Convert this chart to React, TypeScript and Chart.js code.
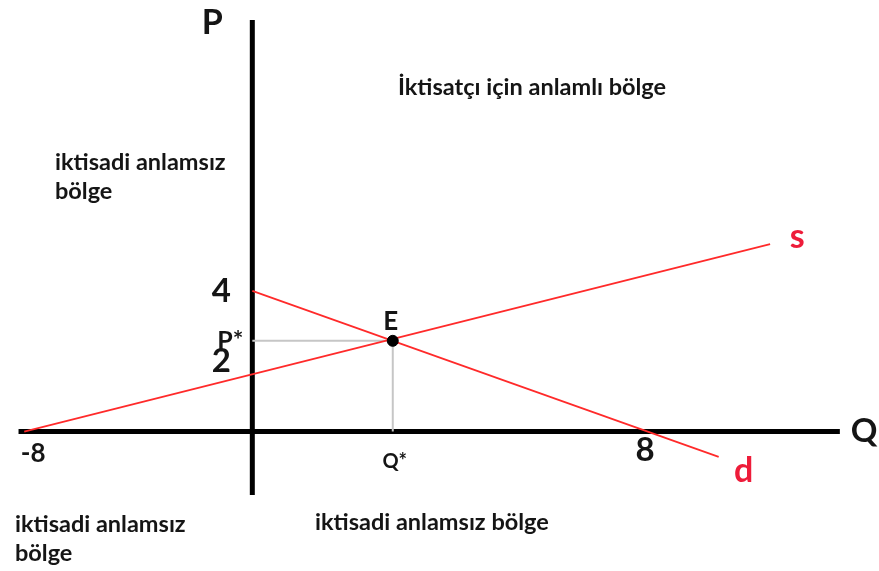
import React, { useEffect, useRef } from "react";
import { Chart, registerables, LinearScale } from "chart.js";

// Supply and demand lines (quantity Q, price P)
const supplyQ = [-8, 10.47];
const supplyP = [0, 5.33];
const demandQ = [0, 9.43];
const demandP = [4, -0.72];

// Equilibrium point E
const equilibriumQ = [2.84];
const equilibriumP = [2.58];

// Axis extents
const quantityAxisRange = [-8.2, 11.88];
const priceAxisRange = [-1.8, 11.7];

// Tick labels on the axes
const priceTickValues = [4, 2];
const priceTickLabels = ["4", "2"];
const quantityTickValues = [-8, 8];
const quantityTickLabels = ["-8", "8"];

// Region notes
const regionNotes = [
  { lines: ["İktisatçı için anlamlı bölge"], x: 398, y: 95 },
  { lines: ["iktisadi anlamsız", "bölge"], x: 55, y: 170 },
  { lines: ["iktisadi anlamsız", "bölge"], x: 15, y: 532 },
  { lines: ["iktisadi anlamsız bölge"], x: 315, y: 530 },
];

const FONT = "Lato, 'Open Sans', 'DejaVu Sans', sans-serif";
const RED = "#ff2a2a";
const LABEL_RED = "#ee1c3a";
const INK = "#151515";

// Linear scale whose negative side is compressed: values below `splitValue`
// occupy the first `splitFraction` of the width, the rest take the remainder.
class SplitLinearScale extends LinearScale {
  static id = "splitLinear";
  static defaults = LinearScale.defaults;

  splitPixel() {
    const frac = (this.options as any).splitFraction ?? 0.5;
    return this.left + this.width * frac;
  }

  getPixelForValue(value: number) {
    if (value === null || value === undefined || isNaN(value)) return NaN;
    const split = (this.options as any).splitValue ?? 0;
    const ps = this.splitPixel();
    if (value <= split) {
      return this.left + ((value - this.min) / (split - this.min)) * (ps - this.left);
    }
    return ps + ((value - split) / (this.max - split)) * (this.right - ps);
  }

  getValueForPixel(pixel: number) {
    const split = (this.options as any).splitValue ?? 0;
    const ps = this.splitPixel();
    if (pixel <= ps) {
      return this.min + ((pixel - this.left) / (ps - this.left)) * (split - this.min);
    }
    return split + ((pixel - ps) / (this.right - ps)) * (this.max - split);
  }
}

Chart.register(...registerables, SplitLinearScale);

const pts = (xs: number[], ys: number[]) => xs.map((x, i) => ({ x, y: ys[i] }));

const labelsPlugin = {
  id: "diagramLabels",
  afterDatasetsDraw(chart: any) {
    const { ctx } = chart;
    const xs = chart.scales.x;
    const ys = chart.scales.y;
    const x0 = xs.getPixelForValue(0);
    const y0 = ys.getPixelForValue(0);

    const text = (
      s: string,
      x: number,
      y: number,
      size: number,
      color = INK,
      align: CanvasTextAlign = "center",
      baseline: CanvasTextBaseline = "middle"
    ) => {
      ctx.save();
      ctx.font = `bold ${size}px ${FONT}`;
      ctx.fillStyle = color;
      ctx.textAlign = align;
      ctx.textBaseline = baseline;
      ctx.fillText(s, x, y);
      ctx.restore();
    };

    // axis titles
    text("P", x0 - 40, ys.getPixelForValue(priceAxisRange[1]) + 3, 34);
    text("Q", xs.getPixelForValue(quantityAxisRange[1]) + 11, y0, 33, INK, "left");

    // price ticks
    priceTickValues.forEach((v, i) => {
      text(priceTickLabels[i], x0 - 31, ys.getPixelForValue(v), 33);
    });
    // quantity ticks
    quantityTickValues.forEach((v, i) => {
      const neg = v < 0;
      text(
        quantityTickLabels[i],
        xs.getPixelForValue(v) + (neg ? 9 : -3),
        y0 + (neg ? 22 : 19),
        neg ? 26 : 33
      );
    });

    // equilibrium labels
    const ex = xs.getPixelForValue(equilibriumQ[0]);
    const ey = ys.getPixelForValue(equilibriumP[0]);
    text("E", ex - 2, ey - 19, 26);
    text("P*", x0 - 22, ey, 25);
    text("Q*", ex + 2, y0 + 30, 20);

    // curve names
    const sx = xs.getPixelForValue(supplyQ[1]);
    const sy = ys.getPixelForValue(supplyP[1]);
    text("s", sx + 27, sy - 7, 34, LABEL_RED);
    const dx = xs.getPixelForValue(demandQ[1]);
    const dy = ys.getPixelForValue(demandP[1]);
    text("d", dx + 25, dy + 14, 34, LABEL_RED);

    // region notes
    regionNotes.forEach((n) => {
      n.lines.forEach((line, i) => {
        text(line, n.x, n.y + i * 29, 23.5, INK, "left", "alphabetic");
      });
    });
  },
};

export default function App() {
  const canvasRef = useRef<HTMLCanvasElement | null>(null);

  useEffect(() => {
    const canvas = canvasRef.current;
    if (!canvas) return;
    const line = (data: any[], color: string, width: number, order: number) => ({
      data,
      borderColor: color,
      backgroundColor: color,
      borderWidth: width,
      showLine: true,
      pointRadius: 0,
      fill: false,
      order,
    });

    const chart = new Chart(canvas, {
      type: "scatter",
      data: {
        datasets: [
          {
            data: pts(equilibriumQ, equilibriumP),
            pointRadius: 5.5,
            pointBackgroundColor: "#000",
            pointBorderColor: "#000",
            showLine: false,
            order: 0,
          } as any,
          line(pts(supplyQ, supplyP), RED, 1.7, 1),
          line(pts(demandQ, demandP), RED, 1.7, 1),
          line(
            [
              { x: 0, y: equilibriumP[0] },
              { x: equilibriumQ[0], y: equilibriumP[0] },
              { x: equilibriumQ[0], y: 0 },
            ],
            "#c6c6c6",
            2,
            2
          ),
          line(
            [
              { x: quantityAxisRange[0], y: 0 },
              { x: quantityAxisRange[1], y: 0 },
            ],
            "#000",
            5,
            3
          ),
          line(
            [
              { x: 0, y: priceAxisRange[0] },
              { x: 0, y: priceAxisRange[1] },
            ],
            "#000",
            5,
            3
          ),
        ],
      },
      options: {
        animation: false,
        responsive: false,
        layout: { padding: 0 },
        plugins: { legend: { display: false }, tooltip: { enabled: false } },
        scales: {
          x: {
            type: "splitLinear" as any,
            min: -8.622,
            max: 12.54,
            splitValue: 0,
            splitFraction: 0.28385,
            display: false,
          } as any,
          y: {
            type: "linear",
            min: -3.778,
            max: 12.083,
            display: false,
          },
        },
      },
      plugins: [labelsPlugin],
    });
    return () => chart.destroy();
  }, []);

  return (
    <div style={{ position: "absolute", left: 0, top: 0, width: 879, height: 571, background: "#fff" }}>
      <canvas ref={canvasRef} width={879} height={571} />
    </div>
  );
}
